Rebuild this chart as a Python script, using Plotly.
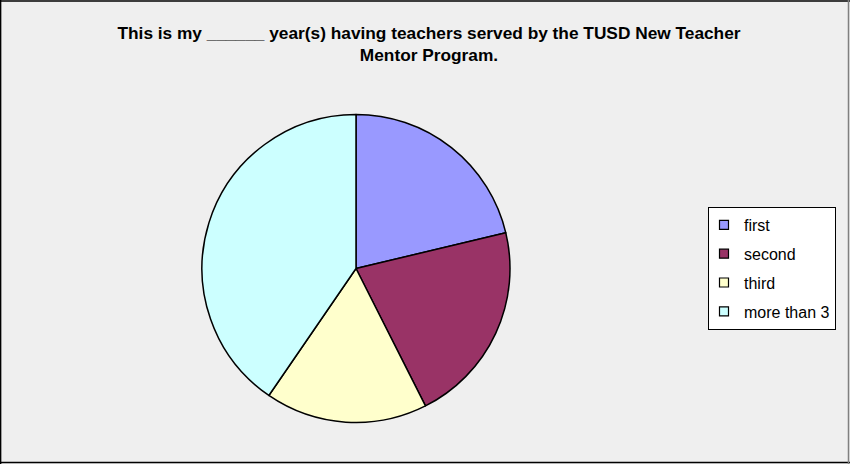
import plotly.graph_objects as go

# Survey responses: years of having teachers served by the mentor program
labels = ["first", "second", "third", "more than 3"]
counts = [10, 10, 8, 19]
slice_colors = ["#9999FF", "#993366", "#FFFFCC", "#CCFFFF"]

title_text = ("This is my ______ year(s) having teachers served by the TUSD New Teacher"
              "<br>Mentor Program.")

W, H = 850, 464
cx, cy, r = 356, 268.5, 154

fig = go.Figure()
fig.add_trace(
    go.Pie(
        labels=labels,
        values=counts,
        sort=False,
        direction="clockwise",
        rotation=0,
        textinfo="none",
        hoverinfo="label+value+percent",
        showlegend=False,
        marker=dict(colors=slice_colors, line=dict(color="black", width=1.5)),
        domain=dict(x=[(cx - r) / W, (cx + r) / W],
                    y=[1 - (cy + r) / H, 1 - (cy - r) / H]),
    )
)

# Legend keys, one group per category so the entries can be spaced apart
for name, color in zip(labels, slice_colors):
    fig.add_trace(
        go.Scatter(
            x=[None], y=[None], mode="markers", name=name, legendgroup=name,
            marker=dict(symbol="square", size=9, color=color,
                        line=dict(color="black", width=1.2)),
            hoverinfo="skip",
        )
    )

# Chart frame
frame = [
    dict(x0=0, x1=1, y0=1 - 1 / H, y1=1 - 1 / H, color="black"),
    dict(x0=0.6 / W, x1=0.6 / W, y0=0, y1=1, color="black"),
    dict(x0=0, x1=1, y0=1.5 / H, y1=1.5 / H, color="black"),
    dict(x0=1 - 1.5 / W, x1=1 - 1.5 / W, y0=0, y1=1, color="#808080"),
]
shapes = [
    dict(type="line", xref="paper", yref="paper", x0=f["x0"], x1=f["x1"],
         y0=f["y0"], y1=f["y1"], line=dict(color=f["color"], width=1.5))
    for f in frame
]

fig.update_layout(
    width=W,
    height=H,
    margin=dict(l=0, r=0, t=0, b=0),
    paper_bgcolor="#EFEFEF",
    plot_bgcolor="#EFEFEF",
    font=dict(family="Liberation Sans, Arial, sans-serif", color="black"),
    xaxis=dict(visible=False),
    yaxis=dict(visible=False),
    title=dict(
        text=title_text,
        x=429 / W,
        xanchor="center",
        y=1 - 39 / H,
        yanchor="top",
        font=dict(family="Liberation Sans, Arial, sans-serif",
                  size=17.3, color="black", weight="bold"),
    ),
    legend=dict(
        x=708 / W,
        y=1 - 207 / H,
        xanchor="left",
        yanchor="top",
        bgcolor="white",
        bordercolor="black",
        borderwidth=1,
        font=dict(size=16, color="black"),
        traceorder="grouped",
        tracegroupgap=5,
        indentation=-5,
    ),
    shapes=shapes,
)

fig.write_html("out.html")
